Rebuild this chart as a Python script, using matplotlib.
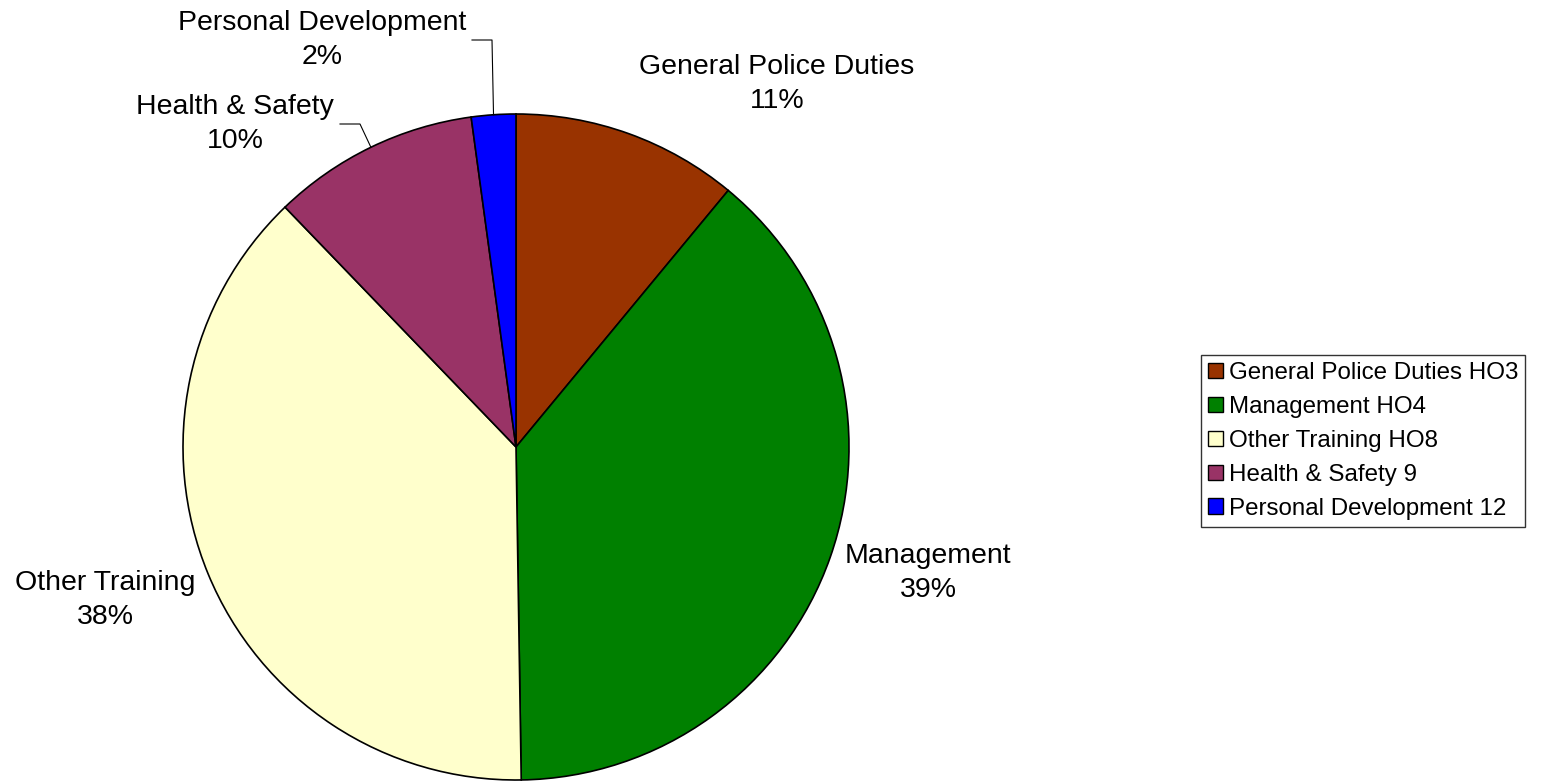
import numpy as np
import matplotlib
matplotlib.use("Agg")
import matplotlib.pyplot as plt
from matplotlib.patches import Patch

categories = ["General Police Duties", "Management", "Other Training", "Health & Safety", "Personal Development"]
legend_labels = ["General Police Duties HO3", "Management HO4", "Other Training HO8", "Health & Safety 9", "Personal Development 12"]
values = [11.0, 38.75, 38.05, 10.05, 2.15]
colors = ["#993300", "#008000", "#FFFFCC", "#993366", "#0000FF"]

plt.rcParams['font.family'] = ['Liberation Sans', 'DejaVu Sans']

W, H = 1541, 781
fig = plt.figure(figsize=(W / 100, H / 100), dpi=100)
ax = fig.add_axes([0, 0, 1, 1])

cx, cy, R = 516, H - 447, 333
wedges, _ = ax.pie(values, colors=colors, startangle=90, counterclock=False,
                   center=(cx, cy), radius=R, frame=True,
                   wedgeprops=dict(edgecolor='black', linewidth=1.2))
ax.set_xlim(0, W)
ax.set_ylim(0, H)
ax.set_aspect('equal')
ax.axis('off')

total = sum(values)
pcts = [f"{round(v / total * 100):d}%" for v in values]

fs = 20.5
label_pos = [(777, 84), (928, 573), (105, 600), (235, 124), (322, 40)]
for (x, y), name, p in zip(label_pos, categories, pcts):
    ax.text(x, H - y, f"{name}\n{p}", ha='center', va='center', fontsize=fs,
            linespacing=1.38)

# leader lines for the two small slices
leaders = {3: (340, 124, 360), 4: (472, 40, 492)}
for idx, (x0, y0, x1) in leaders.items():
    w = wedges[idx]
    mid = np.deg2rad((w.theta1 + w.theta2) / 2)
    ex, ey = cx + R * np.cos(mid), cy + R * np.sin(mid)
    ax.plot([x0, x1, ex], [H - y0, H - y0, ey], color='black', linewidth=0.8)

handles = [Patch(facecolor=c, edgecolor='black', linewidth=1.0) for c in colors]
leg = fig.legend(handles, legend_labels, loc='upper left',
                 bbox_to_anchor=(1201 / W, 1 - 355 / H), fontsize=17.4,
                 frameon=True, fancybox=False, edgecolor='black',
                 handlelength=0.6, handleheight=0.6, handletextpad=0.25,
                 labelspacing=0.49, borderpad=0.3, borderaxespad=0)
leg.get_frame().set_linewidth(1.0)

fig.savefig("out.png", dpi=100)
